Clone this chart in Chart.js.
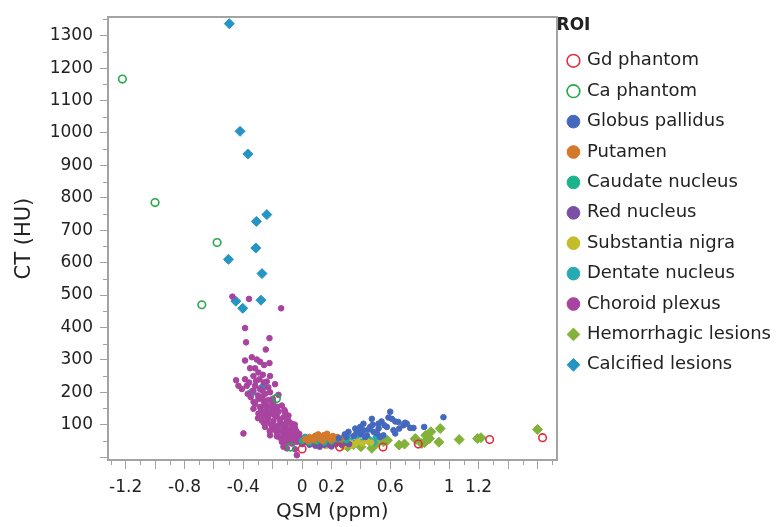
<!DOCTYPE html>
<html>
<head>
<meta charset="utf-8">
<script src="https://cdn.jsdelivr.net/npm/chart.js@4/dist/chart.umd.min.js"></script>
<style>
  html, body { margin: 0; padding: 0; background: #fff; }
  #wrap { width: 781px; height: 527px; }
</style>
</head>
<body>
<div id="wrap"><canvas id="roiScatter"></canvas></div>
<script>
// values: [QSM (ppm), CT (HU)]
const gdPhantom = [[0.0, 25], [0.255, 31], [0.55, 31], [0.79, 40], [1.275, 54], [1.635, 60]];
const caPhantom = [[-1.222, 1166], [-1.0, 785], [-0.578, 662], [-0.682, 470], [-0.175, 181], [-0.08, 31]];
const globusPallidus = [
    [0.961, 123], [0.83, 93], [0.757, 90], [0.735, 90], [0.712, 103], [0.689, 98], [0.633, 110],
    [0.599, 140], [0.587, 122], [0.621, 83], [0.633, 73], [0.519, 103], [0.474, 118], [0.463, 93],
    [0.395, 93], [0.417, 83], [0.361, 88], [0.315, 78], [0.44, 67], [0.508, 73], [0.531, 62],
    [0.61, 118], [0.417, 103], [0.383, 80], [0.485, 78], [0.553, 67], [0.655, 108], [0.70, 106],
    [0.576, 93], [0.35, 65], [0.3, 62], [0.25, 58], [0.45, 85], [0.52, 88], [0.4, 70], [0.56, 98],
    [0.66, 88], [0.29, 70], [0.37, 75], [0.48, 100], [0.54, 110], [0.43, 62],
];
const putamen = [
    [0.02, 55], [0.05, 62], [0.07, 58], [0.09, 66], [0.1, 60], [0.12, 64], [0.13, 55], [0.15, 68],
    [0.16, 60], [0.18, 63], [0.19, 57], [0.21, 65], [0.22, 59], [0.24, 62], [0.26, 56], [0.04, 50],
    [0.08, 52], [0.14, 50], [0.2, 52], [0.28, 60], [0.11, 70], [0.17, 72],
];
const caudateNucleus = [
    [0.0, 50], [0.03, 58], [0.06, 54], [0.08, 60], [0.1, 48], [0.12, 57], [0.14, 62], [0.16, 52],
    [0.18, 58], [0.2, 48], [0.22, 55], [0.24, 60], [0.26, 50], [0.28, 55], [0.05, 45], [0.15, 45],
    [0.3, 52], [0.09, 65],
];
const redNucleus = [
    [0.0, 40], [0.02, 46], [0.05, 38], [0.07, 44], [0.09, 35], [0.11, 42], [0.13, 48], [0.15, 38],
    [0.17, 45], [0.19, 36], [0.21, 43], [0.23, 40], [0.25, 47], [0.27, 38], [0.3, 44], [0.32, 40],
    [0.04, 52], [0.12, 32], [0.2, 33], [0.08, 50],
];
const substantiaNigra = [
    [0.05, 40], [0.08, 47], [0.1, 36], [0.14, 44], [0.18, 50], [0.2, 40], [0.24, 46], [0.27, 38],
    [0.3, 52], [0.33, 44], [0.36, 40], [0.38, 48], [0.41, 42], [0.44, 50], [0.47, 45], [0.16, 34],
    [0.22, 55], [0.34, 36], [0.12, 52], [0.28, 32],
];
const dentateNucleus = [
    [0.02, 62], [0.06, 48], [0.1, 55], [0.13, 40], [0.17, 55], [0.21, 62], [0.25, 45], [0.29, 58],
    [0.33, 50], [0.37, 62], [0.4, 48], [0.43, 57], [0.46, 52], [0.5, 60], [0.49, 45], [0.31, 66],
    [0.15, 66], [0.35, 42],
];
const choroidPlexus = [
    [-0.474, 495], [-0.361, 488], [-0.143, 459], [-0.388, 398], [-0.381, 354], [-0.222, 367],
    [-0.247, 332], [-0.388, 298], [-0.342, 308], [-0.308, 301], [-0.286, 294], [-0.259, 284],
    [-0.222, 290], [-0.354, 274], [-0.320, 274], [-0.399, 73], [-0.036, 6], [-0.127, 32],
    [-0.297, 261], [-0.267, 254], [-0.331, 250], [-0.218, 250], [-0.449, 237], [-0.388, 240],
    [-0.313, 235], [-0.240, 233], [-0.184, 225], [-0.433, 220], [-0.376, 220], [-0.286, 210],
    [-0.218, 200], [-0.331, 205], [-0.252, 195], [-0.161, 192], [-0.297, 179], [-0.263, 174],
    [-0.229, 176], [-0.195, 169], [-0.320, 164], [-0.331, 149], [-0.286, 154], [-0.240, 154],
    [-0.184, 149], [-0.138, 159], [-0.116, 139], [-0.297, 134], [-0.263, 128], [-0.218, 134],
    [-0.172, 125], [-0.127, 123], [-0.093, 128], [-0.274, 113], [-0.240, 108], [-0.195, 111],
    [-0.150, 103], [-0.104, 108], [-0.070, 103], [-0.252, 93], [-0.206, 88], [-0.161, 83],
    [-0.116, 88], [-0.082, 83], [-0.048, 88], [-0.218, 67], [-0.172, 64], [-0.127, 67],
    [-0.093, 60], [-0.059, 62], [-0.025, 67], [-0.138, 47], [-0.104, 44], [-0.070, 42],
    [-0.036, 47], [-0.002, 42], [-0.104, 27], [-0.048, 24],
    [-0.3, 190], [-0.27, 185], [-0.25, 165], [-0.21, 160], [-0.28, 145], [-0.25, 140], [-0.2, 145],
    [-0.23, 120], [-0.19, 130], [-0.16, 140], [-0.15, 115], [-0.13, 100], [-0.11, 95], [-0.09, 110],
    [-0.07, 90], [-0.06, 75], [-0.04, 80], [-0.02, 72], [-0.08, 70], [-0.11, 75], [-0.14, 80],
    [-0.18, 95], [-0.21, 100], [-0.24, 125], [-0.26, 160], [-0.35, 185], [-0.36, 230], [-0.32, 220],
    [-0.29, 240], [-0.41, 210], [-0.27, 205], [-0.2, 180], [-0.17, 155], [-0.12, 145], [-0.1, 120],
    [-0.05, 100], [-0.03, 55], [-0.01, 58], [-0.06, 50], [-0.09, 50], [0.01, 50], [0.02, 62],
    [-0.12, 55], [-0.15, 60], [-0.17, 75], [-0.19, 85], [-0.22, 80], [-0.26, 105], [-0.3, 120],
    [-0.33, 170], [-0.37, 195], [-0.23, 215], [-0.26, 230],
];
const hemorrhagicLesions = [
    [1.601, 85], [1.216, 60], [1.193, 57], [1.068, 54], [0.939, 88], [0.93, 46], [0.875, 78],
    [0.866, 57], [0.841, 67], [0.832, 45], [0.774, 54], [0.814, 42], [0.696, 40], [0.66, 37],
    [0.769, 57], [0.553, 47], [0.531, 59], [0.474, 27], [0.463, 47], [0.40, 32], [0.31, 32],
    [0.5, 40], [0.45, 55], [0.35, 38], [0.58, 52],
];
const calcifiedLesions = [
    [-0.495, 1337], [-0.422, 1005], [-0.369, 935], [-0.24, 748], [-0.311, 727], [-0.315, 645],
    [-0.501, 610], [-0.273, 566], [-0.451, 481], [-0.28, 484], [-0.404, 459], [-0.345, 198],
    [-0.268, 216], [-0.218, 144], [-0.138, 98],
];

// axis ticks
const xMajorTicks = [-1.2, -1.0, -0.8, -0.6, -0.4, -0.2, 0, 0.2, 0.4, 0.6, 0.8, 1.0, 1.2, 1.4, 1.6];
const xMinorTicks = [-1.3, -1.1, -0.9, -0.7, -0.5, -0.3, -0.1, 0.1, 0.3, 0.5, 0.7, 0.9, 1.1, 1.3, 1.5, 1.7];
const xTickLabels = [-1.2, -0.8, -0.4, 0, 0.2, 0.6, 1, 1.2];
const yMajorTicks = [0, 100, 200, 300, 400, 500, 600, 700, 800, 900, 1000, 1100, 1200, 1300];
const yMinorTicks = [50, 150, 250, 350, 450, 550, 650, 750, 850, 950, 1050, 1150, 1250, 1350];
const yTickLabels = [100, 200, 300, 400, 500, 600, 700, 800, 900, 1000, 1100, 1200, 1300];

const axisColor = "#a3a3a3";
const textColor = "#222222";
const FONT = "'DejaVu Sans', Verdana, sans-serif";

const toPoints = (arr) => arr.map(p => ({ x: p[0], y: p[1] }));

function series(label, arr, color, style) {
    const open = style === "open";
    const diamond = style === "diamond";
    return {
        label: label,
        data: toPoints(arr),
        pointStyle: diamond ? "rectRot" : "circle",
        pointRadius: open ? 3.8 : (diamond ? 5 : 2.8),
        borderWidth: open ? 1.6 : 1,
        borderColor: color,
        backgroundColor: open ? "rgba(255,255,255,0)" : color,
    };
}

const minorTicks = {
    id: "minorTicks",
    afterDraw(chart) {
        const { ctx, scales: { x, y } } = chart;
        ctx.save();
        ctx.strokeStyle = axisColor;
        ctx.lineWidth = 1;
        ctx.beginPath();
        xMinorTicks.forEach(v => {
            const px = Math.round(x.getPixelForValue(v)) + 0.5;
            ctx.moveTo(px, x.top);
            ctx.lineTo(px, x.top + 5);
        });
        yMinorTicks.forEach(v => {
            const py = Math.round(y.getPixelForValue(v)) + 0.5;
            ctx.moveTo(y.right - 5, py);
            ctx.lineTo(y.right, py);
        });
        ctx.stroke();
        ctx.restore();
    },
};

const near = (list, v) => list.some(t => Math.abs(t - v) < 1e-6);

const config = {
    type: "scatter",
    data: {
        datasets: [
            series("Gd phantom", gdPhantom, "#e0303f", "open"),
            series("Ca phantom", caPhantom, "#27a84a", "open"),
            series("Globus pallidus", globusPallidus, "#4468bd", "dot"),
            series("Putamen", putamen, "#d4792c", "dot"),
            series("Caudate nucleus", caudateNucleus, "#1db38a", "dot"),
            series("Red nucleus", redNucleus, "#7b4fa6", "dot"),
            series("Substantia nigra", substantiaNigra, "#c4bc2a", "dot"),
            series("Dentate nucleus", dentateNucleus, "#27abb2", "dot"),
            series("Choroid plexus", choroidPlexus, "#a8449f", "dot"),
            series("Hemorrhagic lesions", hemorrhagicLesions, "#83b23a", "diamond"),
            series("Calcified lesions", calcifiedLesions, "#2595c4", "diamond"),
        ],
    },
    options: {
        responsive: true,
        maintainAspectRatio: false,
        animation: false,
        events: [],
        layout: { padding: 0 },
        plugins: {
            tooltip: { enabled: false },
            legend: {
                position: "right",
                align: "start",
                maxWidth: 226,
                title: {
                    display: true,
                    text: "ROI",
                    position: "start",
                    color: textColor,
                    font: { family: FONT, size: 17, weight: "bold" },
                    padding: { top: 17, bottom: 2 },
                },
                labels: {
                    usePointStyle: true,
                    boxWidth: 9,
                    boxHeight: 9,
                    padding: 12.4,
                    color: textColor,
                    font: { family: FONT, size: 18 },
                },
            },
        },
        scales: {
            x: {
                type: "linear",
                position: "bottom",
                min: -1.32,
                max: 1.73,
                afterBuildTicks: (scale) => { scale.ticks = xMajorTicks.map(v => ({ value: v })); },
                afterFit: (scale) => { scale.height = 67; },
                ticks: {
                    autoSkip: false,
                    maxRotation: 0,
                    padding: 8,
                    color: textColor,
                    font: { family: FONT, size: 17 },
                    callback: (v) => near(xTickLabels, v) ? String(Math.round(v * 10) / 10) : "",
                },
                grid: { drawOnChartArea: false, drawTicks: true, tickLength: 9, color: axisColor, tickColor: axisColor },
                border: { display: true, color: axisColor, width: 2 },
                title: {
                    display: true,
                    text: "QSM (ppm)",
                    color: textColor,
                    font: { family: FONT, size: 20 },
                    padding: { top: 0, bottom: 3 },
                },
            },
            y: {
                type: "linear",
                position: "left",
                min: -9,
                max: 1357,
                afterBuildTicks: (scale) => { scale.ticks = yMajorTicks.map(v => ({ value: v })); },
                afterFit: (scale) => { scale.width = 108; },
                ticks: {
                    autoSkip: false,
                    padding: 7,
                    color: textColor,
                    font: { family: FONT, size: 17 },
                    callback: (v) => near(yTickLabels, v) ? String(v) : "",
                },
                grid: { drawOnChartArea: false, drawTicks: true, tickLength: 8, color: axisColor, tickColor: axisColor },
                border: { display: true, color: axisColor, width: 2 },
                title: {
                    display: true,
                    text: "CT (HU)",
                    color: textColor,
                    font: { family: FONT, size: 21 },
                    padding: { top: 12, bottom: 0 },
                },
            },
            xTop: {
                type: "linear",
                position: "top",
                afterFit: (scale) => { scale.height = 12; },
                ticks: { display: false },
                grid: { display: true, drawOnChartArea: false, drawTicks: false },
                border: { display: true, color: axisColor, width: 2 },
            },
            yRight: {
                type: "linear",
                position: "right",
                afterFit: (scale) => { scale.width = 0; },
                ticks: { display: false },
                grid: { display: true, drawOnChartArea: false, drawTicks: false },
                border: { display: true, color: axisColor, width: 2 },
            },
        },
    },
    plugins: [minorTicks],
};

new Chart(document.getElementById("roiScatter"), config);
</script>
</body>
</html>
